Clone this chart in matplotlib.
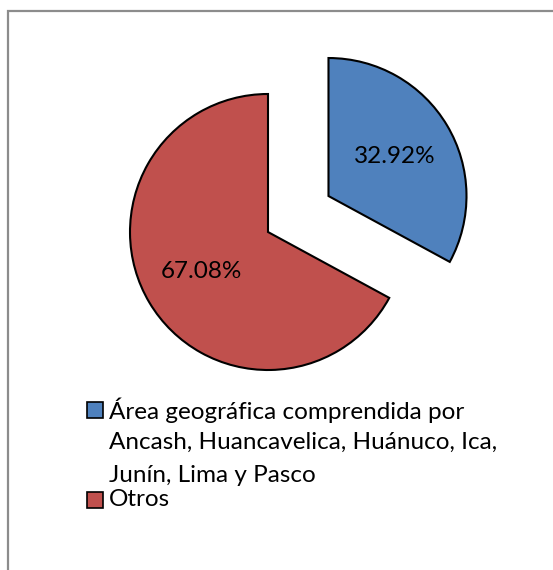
import matplotlib.pyplot as plt
from matplotlib.patches import Rectangle

labels = ["Área geográfica comprendida por\nAncash, Huancavelica, Huánuco, Ica,\nJunín, Lima y Pasco", "Otros"]
shares = [32.92, 67.08]
colors = ["#4F81BD", "#C0504D"]

W, H = 553, 570
plt.rcParams['font.family'] = ['Lato', 'DejaVu Sans']

fig = plt.figure(figsize=(W / 100, H / 100), dpi=100)
ax = fig.add_axes([0, 0, 1, 1])

# pie centre and radius in pixels
cx, cy, r = 268, 232, 138

wedges, texts = ax.pie(
    shares, colors=colors, startangle=90, counterclock=False,
    explode=[0.51, 0], labels=[f"{v:.2f}%" for v in shares],
    labeldistance=0.56,
    wedgeprops=dict(edgecolor="black", linewidth=1.5),
    textprops=dict(fontsize=17.5, color="black", ha="center", va="center"),
)
ax.set_xlim(-cx / r, (W - cx) / r)
ax.set_ylim(-(H - cy) / r, cy / r)
ax.axis("off")

def fx(x):
    return x / W

def fy(y):
    return 1 - y / H

# outer chart border, cut off at right and bottom
fig.add_artist(Rectangle((fx(8), -0.1), 1.2, fy(11) + 0.1, transform=fig.transFigure,
                         fill=False, edgecolor="#8c8c8c", linewidth=1.6))

# legend drawn by hand: square swatches and wrapped labels
swatch_y = [410, 500]
for lab, col, sy in zip(labels, colors, swatch_y):
    fig.add_artist(Rectangle((fx(87), fy(sy + 8)), 16 / W, 16 / H, transform=fig.transFigure,
                             facecolor=col, edgecolor="black", linewidth=1.2))
    fig.text(fx(109), fy(sy), lab.split("\n")[0] if "\n" in lab else lab,
             fontsize=17.5, va="center", ha="left")
    # continuation lines of a wrapped label, spaced like the source text
    for k, line in enumerate(lab.split("\n")[1:], start=1):
        fig.text(fx(109), fy(sy + 32.5 * k), line, fontsize=17.5, va="center", ha="left")

fig.savefig("out.png", dpi=100)
